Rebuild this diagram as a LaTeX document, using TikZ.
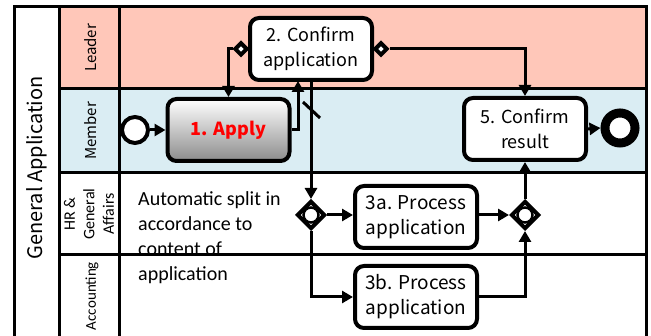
\documentclass[tikz,border=0pt]{standalone}
\usepackage{fontspec}
\newfontfamily\gothic{Noto Sans CJK JP}
\newfontfamily\calib{Carlito}
\usetikzlibrary{arrows.meta,shapes.geometric}
\definecolor{leaderc}{RGB}{255,199,185}
\definecolor{memberc}{RGB}{218,237,243}
\begin{document}
\begin{tikzpicture}[x=1pt,y=-1pt,
  frame/.style={line width=3pt},
  task/.style={draw, line width=4pt, rounded corners=9pt, fill=white,
    minimum width=122pt, minimum height=62pt, align=center, inner sep=0pt,
    font=\gothic\fontsize{18}{25}\selectfont},
  flow/.style={line width=3pt},
  arr/.style={flow, -{Triangle[length=11pt,width=12pt]}},
  gate/.style={draw, diamond, line width=4pt, fill=white, minimum width=28pt, minimum height=28pt, inner sep=0pt},
  flowmark/.style={draw, diamond, line width=4pt, fill=white, minimum width=13pt, minimum height=13pt, inner sep=0pt},
  lanelbl/.style={rotate=90, font=\gothic\fontsize{15}{17}\selectfont, align=center},
  lanelbc/.style={rotate=90, font=\calib\fontsize{15}{17}\selectfont, align=center}
]
\clip (0,0) rectangle (651,336);
\fill[white] (0,0) rectangle (651,336);
\fill[leaderc] (59,7) rectangle (646,89);
\fill[memberc] (59,89) rectangle (646,173);
% annotation text
\node[anchor=north west, align=left, inner sep=0pt, font=\calib\fontsize{20}{25.3}\selectfont] (note) at (138,191)
  {Automatic split in\\accordance to\\content of\\application};
% frame and lane lines
\draw[frame] (14,345) -- (14,7) -- (646,7) -- (646,345);
\draw[frame] (59,7) -- (59,345);
\draw[frame] (119,7) -- (119,345);
\draw[frame] (59,89) -- (646,89);
\draw[frame] (59,173) -- (646,173);
\draw[frame] (59,255) -- (646,255);
% labels
\node[rotate=90, font=\gothic\fontsize{20}{22}\selectfont] (pool) at (37,168) {General Application};
\node[lanelbl] (lleader) at (91,48) {Leader};
\node[lanelbl] (lmember) at (91,131) {Member};
\node[lanelbc, font=\calib\fontsize{16}{19.5}\selectfont] (lhr) at (89,214) {HR \&\\General\\Affairs};
\node[lanelbc] (lacc) at (92,296) {Accounting};
% nodes
\node[draw, circle, line width=4pt, fill=white, minimum size=26pt, inner sep=0pt] (start) at (135,130) {};
\node[task, shading=axis, top color=white, bottom color=black!45, shading angle=0,
  font=\gothic\bfseries\fontsize{18}{22}\selectfont, text=red] (apply) at (228.5,130) {1. Apply};
\node[task] (confirm) at (311,49) {2. Confirm\\application};
\node[task] (result) at (525,129) {5. Confirm\\result};
\node[draw, circle, line width=9pt, fill=white, minimum size=30pt, inner sep=0pt] (end) at (620,128) {};
\node[gate] (gw1) at (311,215) {};
\draw[line width=2.5pt] (gw1) circle (7.5pt);
\node[gate] (gw2) at (525,215) {};
\draw[line width=2.5pt] (gw2) circle (7.5pt);
\node[task, font=\gothic\fontsize{19}{25}\selectfont] (p3a) at (416,217) {3a. Process\\application};
\node[task, font=\gothic\fontsize{19}{25}\selectfont] (p3b) at (416,297) {3b. Process\\application};
\node[flowmark] (dmL) at (241,49) {};
\node[flowmark] (dmR) at (381,49) {};
\coordinate (upx) at (298,81);
% connectors
\draw[arr] (start) -- (apply);
\draw[arr] (dmL.west) -| (apply.north);
\draw[arr] (dmR.east) -| (result.north);
\draw[arr] (apply.east) -| (upx);
\draw[arr] (confirm.south) -- (gw1.north);
\draw[line width=3pt] (303,102) -- (320,118);
\draw[arr] (gw1.east) -- (gw1.east -| p3a.west);
\draw[arr] (gw1.south) |- (p3b.west);
\draw[arr] (p3a.east |- gw2.west) -- (gw2.west);
\draw[arr] (p3b.east) -| (gw2.south);
\draw[arr] (gw2.north) -- (result.south);
\draw[arr] (result.east) -- (end.west);
\end{tikzpicture}
\end{document}
